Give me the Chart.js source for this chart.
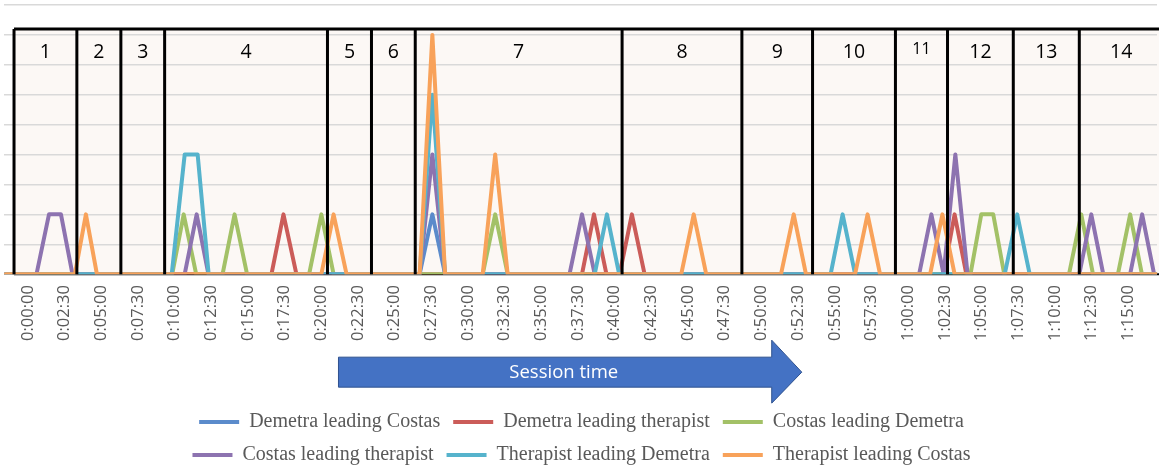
<!DOCTYPE html>
<html>
<head>
<meta charset="utf-8">
<script src="https://cdn.jsdelivr.net/npm/chart.js@4.4.1/dist/chart.umd.min.js"></script>
<style>
  html, body { margin: 0; padding: 0; background: #fff; }
  canvas { display: block; }
</style>
</head>
<body>
<canvas id="chart" width="1159" height="469"></canvas>
<script>
// x values are seconds into the session
const xMin = -98;
const xMax = 4618;

const seriesNames = ['Demetra leading Costas', 'Demetra leading therapist', 'Costas leading Demetra',
    'Costas leading therapist', 'Therapist leading Demetra', 'Therapist leading Costas'];
const seriesColors = ['#5B8BCB', '#CB5C59', '#A3C167', '#8D73B0', '#56B3CC', '#F8A25A'];

const demetraCostasT = [-90, 1602, 1654, 1706, 4620];
const demetraCostasV = [0, 0, 2, 0, 0];

const demetraTherapistT = [-90, 996, 1045, 1098, 2266, 2315, 2366, 2420, 2470, 2522, 3745, 3790, 3838, 4620];
const demetraTherapistV = [0, 0, 2, 0, 0, 2, 0, 0, 2, 0, 0, 2, 0, 0];

const costasDemetraT = [-90, 590, 637, 688, 796, 845, 896, 1150, 1200, 1250, 1860, 1911, 1962,
    3855, 3899, 3948, 3993, 4258, 4308, 4356, 4458, 4508, 4556, 4620];
const costasDemetraV = [0, 0, 2, 0, 0, 2, 0, 0, 2, 0, 0, 2, 0,
    0, 2, 2, 0, 0, 2, 0, 0, 2, 0, 0];

const costasTherapistT = [-90, 35, 86, 135, 182, 641, 690, 738, 1602, 1654, 1706, 2215, 2266, 2318,
    3645, 3695, 3745, 3793, 3843, 4300, 4349, 4398, 4508, 4557, 4606, 4620];
const costasTherapistV = [0, 0, 2, 2, 0, 0, 2, 0, 0, 4, 0, 0, 2, 0,
    0, 2, 0, 4, 0, 0, 2, 0, 0, 2, 0, 0];

const therapistDemetraT = [-90, 588, 641, 694, 739, 1602, 1654, 1706, 2318, 2368, 2418,
    3283, 3332, 3383, 3995, 4046, 4097, 4620];
const therapistDemetraV = [0, 0, 4, 4, 0, 0, 6, 0, 0, 2, 0,
    0, 2, 0, 0, 2, 0, 0];

const therapistCostasT = [-90, 192, 237, 282, 1200, 1250, 1303, 1602, 1654, 1706, 1860, 1911, 1962,
    2672, 2723, 2774, 3080, 3132, 3182, 3383, 3434, 3485, 3690, 3740, 3790, 4620];
const therapistCostasV = [0, 0, 2, 0, 0, 2, 0, 0, 8, 0, 0, 4, 0,
    0, 2, 0, 0, 2, 0, 0, 2, 0, 0, 2, 0, 0];

// session segments (edges in seconds) and their numbers
const segEdges = [-57, 200, 380, 559, 1225, 1405, 1584, 2430, 2920, 3209, 3548, 3761, 4030, 4300, 4643];
const segLabels = ['1', '2', '3', '4', '5', '6', '7', '8', '9', '10', '11', '12', '13', '14'];
const segTop = 8.2;
const segLabelY = 7.43;

// arrow under the axis (seconds)
const arrowStart = 1270;
const arrowHead = 3042;
const arrowTip = 3165;

const seriesTimes = [demetraCostasT, demetraTherapistT, costasDemetraT, costasTherapistT, therapistDemetraT, therapistCostasT];
const seriesValues = [demetraCostasV, demetraTherapistV, costasDemetraV, costasTherapistV, therapistDemetraV, therapistCostasV];

function fmtTime(s) {
    const h = Math.floor(s / 3600);
    const m = Math.floor((s % 3600) / 60);
    const sec = s % 60;
    return h + ':' + String(m).padStart(2, '0') + ':' + String(sec).padStart(2, '0');
}

const datasets = seriesNames.map((name, i) => ({
    label: name,
    data: seriesTimes[i].map((t, j) => ({ x: t, y: seriesValues[i][j] })),
    borderColor: seriesColors[i],
    backgroundColor: seriesColors[i],
    borderWidth: 4,
    pointRadius: 0,
    tension: 0,
    borderJoinStyle: 'round',
    borderCapStyle: 'round',
    order: seriesNames.length - i
}));

// keep the legend at three items per row, like the original
const legendRows = {
    id: 'legendRows',
    beforeLayout(chart) {
        const lg = chart.legend;
        if (!lg || lg._rowsPatched) return;
        const origFit = lg.fit;
        lg.fit = function () {
            const full = this.maxWidth;
            this.maxWidth = 900;
            origFit.call(this);
            this.maxWidth = full;
            this.width = full;
            this.height -= 6;
        };
        lg._rowsPatched = true;
    }
};

const segments = {
    id: 'segments',
    beforeDraw(chart) {
        const { ctx, scales: { x, y } } = chart;
        const top = y.getPixelForValue(segTop);
        const bottom = y.getPixelForValue(0);
        const l = x.getPixelForValue(segEdges[0]);
        const r = x.getPixelForValue(segEdges[segEdges.length - 1]);
        ctx.save();
        ctx.fillStyle = '#FCF8F5';
        ctx.fillRect(l, top, r - l, bottom - top);
        ctx.restore();
    },
    beforeDatasetsDraw(chart) {
        const { ctx, scales: { x, y } } = chart;
        const bottom = y.getPixelForValue(0);
        ctx.save();
        ctx.strokeStyle = '#000';
        ctx.lineWidth = 2;
        ctx.beginPath();
        ctx.moveTo(x.getPixelForValue(segEdges[0]), bottom);
        ctx.lineTo(x.getPixelForValue(segEdges[segEdges.length - 1]), bottom);
        ctx.stroke();
        ctx.restore();
    },
    afterDatasetsDraw(chart) {
        const { ctx, scales: { x, y } } = chart;
        const top = y.getPixelForValue(segTop);
        const bottom = y.getPixelForValue(0);
        ctx.save();
        ctx.strokeStyle = '#000';
        ctx.lineWidth = 3;
        ctx.beginPath();
        ctx.moveTo(x.getPixelForValue(segEdges[0]), top);
        ctx.lineTo(x.getPixelForValue(segEdges[segEdges.length - 1]), top);
        segEdges.forEach(t => {
            const px = x.getPixelForValue(t);
            ctx.moveTo(px, top);
            ctx.lineTo(px, bottom);
        });
        ctx.stroke();

        ctx.fillStyle = '#000';
        ctx.textAlign = 'center';
        ctx.textBaseline = 'middle';
        segLabels.forEach((lbl, i) => {
            const cx = (x.getPixelForValue(segEdges[i]) + x.getPixelForValue(segEdges[i + 1])) / 2;
            const small = lbl === '11';
            ctx.font = (small ? '16px' : '19.5px') + ' "Open Sans"';
            ctx.fillText(lbl, cx, y.getPixelForValue(segLabelY) - (small ? 3 : 0));
        });
        ctx.restore();
    },
    afterDraw(chart) {
        const { ctx, scales: { x } } = chart;
        const base = chart.chartArea.bottom;
        const x0 = x.getPixelForValue(arrowStart);
        const x1 = x.getPixelForValue(arrowHead);
        const x2 = x.getPixelForValue(arrowTip);
        ctx.save();
        ctx.beginPath();
        ctx.moveTo(x0, base + 83);
        ctx.lineTo(x1, base + 83);
        ctx.lineTo(x1, base + 66);
        ctx.lineTo(x2, base + 98);
        ctx.lineTo(x1, base + 129);
        ctx.lineTo(x1, base + 113);
        ctx.lineTo(x0, base + 113);
        ctx.closePath();
        ctx.fillStyle = '#4472C4';
        ctx.fill();
        ctx.strokeStyle = '#2F528F';
        ctx.lineWidth = 1;
        ctx.stroke();
        ctx.fillStyle = '#fff';
        ctx.font = '18.5px "Open Sans"';
        ctx.textAlign = 'center';
        ctx.textBaseline = 'middle';
        ctx.fillText('Session time', x0 + (x1 - x0) * 0.52, base + 99);
        ctx.restore();
    }
};

new Chart(document.getElementById('chart'), {
    type: 'line',
    data: { datasets: datasets },
    plugins: [legendRows, segments],
    options: {
        responsive: false,
        animation: false,
        layout: { padding: { top: 5, left: 4, right: 0, bottom: 0 } },
        scales: {
            x: {
                type: 'linear',
                min: xMin,
                max: xMax,
                grid: { display: false, drawTicks: false },
                border: { display: false },
                ticks: {
                    stepSize: 150,
                    includeBounds: false,
                    autoSkip: false,
                    maxRotation: 90,
                    minRotation: 90,
                    padding: 11,
                    color: '#595959',
                    font: { family: 'Open Sans', size: 16.5 },
                    callback: v => (v < 0 ? '' : fmtTime(v))
                },
                title: { display: true, text: '', font: { size: 10, lineHeight: 1 }, padding: { top: 0, bottom: 37 } }
            },
            y: {
                min: 0,
                max: 9,
                grid: { color: '#D9D9D9', lineWidth: 1.5, drawTicks: false },
                border: { display: false },
                ticks: { display: false, stepSize: 1 }
            }
        },
        plugins: {
            legend: {
                position: 'bottom',
                labels: {
                    usePointStyle: true,
                    pointStyle: 'line',
                    pointStyleWidth: 40,
                    padding: 13,
                    color: '#595959',
                    font: { family: 'Liberation Serif', size: 20 },
                    sort: (a, b) => a.datasetIndex - b.datasetIndex
                }
            },
            tooltip: { enabled: false }
        }
    }
});
</script>
</body>
</html>
